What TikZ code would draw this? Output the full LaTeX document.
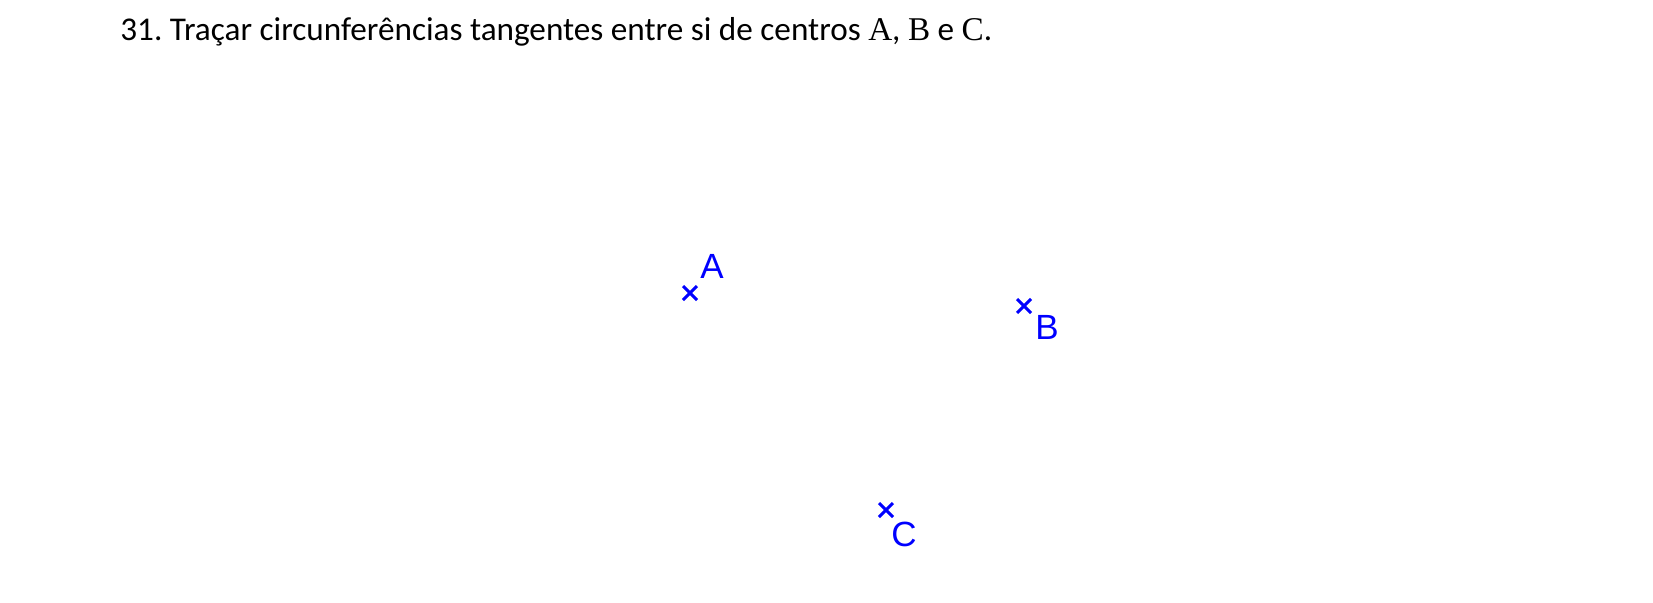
\documentclass[tikz,border=0pt]{standalone}
\usepackage{fontspec}
\setmainfont{Carlito}
\newfontfamily\labelfont{Liberation Sans}
\newfontfamily\serifletters{Liberation Serif}
\definecolor{ptblue}{RGB}{0,0,255}
\begin{document}
\frenchspacing
\begin{tikzpicture}[x=0.5pt,y=-0.5pt,
  ptcross/.style={draw=ptblue,line width=1.5pt},
  ptlabel/.style={text=ptblue,font=\labelfont\fontsize{17.5pt}{20pt}\selectfont,inner sep=0pt},
  titletext/.style={font=\fontsize{16.6pt}{20pt}\selectfont,inner sep=0pt,anchor=base west}]
\useasboundingbox (0,0) rectangle (1653,602);
\node[titletext] (title) at (120,40) {31. Traçar circunferências tangentes entre si de centros {\serifletters A}, {\serifletters B} e {\serifletters C}.};
% points
\coordinate (A) at (690,293);
\coordinate (B) at (1024,306);
\coordinate (C) at (886,510);
\foreach \p in {A,B,C}{
  \draw[ptcross] ([shift={(-7,-7)}]\p) -- ([shift={(7,7)}]\p);
  \draw[ptcross] ([shift={(-7,7)}]\p) -- ([shift={(7,-7)}]\p);
}
\node[ptlabel] (labA) at (712,266) {A};
\node[ptlabel] (labB) at (1047,327) {B};
\node[ptlabel] (labC) at (904,534) {C};
\end{tikzpicture}
\end{document}
